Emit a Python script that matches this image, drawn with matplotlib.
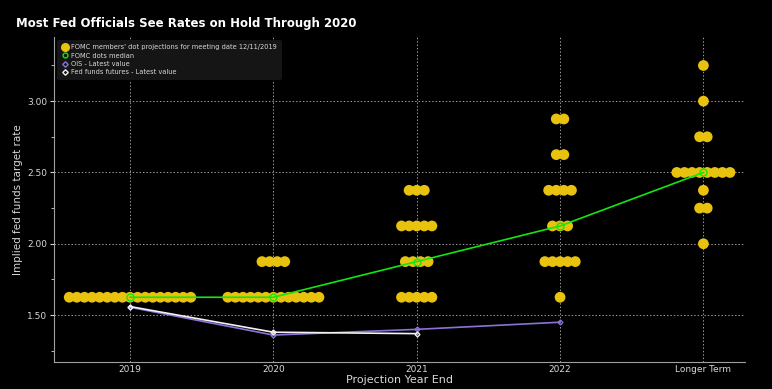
import numpy as np
import matplotlib.pyplot as plt
from matplotlib.lines import Line2D

# ===== data =====
categories = ['2019', '2020', '2021', '2022', 'Longer Term']

# dot plot: (rate level, number of officials) per projection year
dots_2019 = [(1.625, 17)]
dots_2020 = [(1.625, 13), (1.875, 4)]
dots_2021 = [(1.625, 5), (1.875, 4), (2.125, 5), (2.375, 3)]
dots_2022 = [(1.625, 1), (1.875, 5), (2.125, 3), (2.375, 4), (2.625, 2), (2.875, 2)]
dots_longer = [(2.00, 1), (2.25, 2), (2.375, 1), (2.50, 8), (2.75, 2), (3.00, 1), (3.25, 1)]
dots_all = [dots_2019, dots_2020, dots_2021, dots_2022, dots_longer]

median_rates = [1.625, 1.625, 1.875, 2.125, 2.50]
ois_rates = [1.555, 1.36, 1.40, 1.45]
futures_rates = [1.56, 1.38, 1.37]

# ===== style =====
bg = 'black'
fg = '#d8d8d8'
dot_color = '#e8c20c'
median_color = '#12e612'
ois_color = '#8c72d8'
fut_color = '#f2f2f2'

fig = plt.figure(figsize=(7.72, 3.89), dpi=100, facecolor=bg)
ax = fig.add_axes([0.070, 0.069, 0.895, 0.836], facecolor=bg)

x_pos = np.arange(len(categories))
step = 0.053

# 点阵：每个水平居中排开
for xi, levels in zip(x_pos, dots_all):
    for rate, n in levels:
        offs = (np.arange(n) - (n - 1) / 2) * step
        ax.scatter(xi + offs, np.full(n, rate), s=60, color=dot_color,
                   edgecolors='none', zorder=3)

ax.plot(x_pos, median_rates, color=median_color, lw=1.2, zorder=4,
        marker='o', markersize=5, markerfacecolor='none',
        markeredgecolor=median_color, markeredgewidth=1.0)
ax.plot(x_pos[:len(ois_rates)], ois_rates, color=ois_color, lw=1.2, zorder=4,
        marker='D', markersize=2.5, markerfacecolor='none',
        markeredgecolor=ois_color)
ax.plot(x_pos[:len(futures_rates)], futures_rates, color=fut_color, lw=1.2, zorder=5,
        marker='D', markersize=2.5, markerfacecolor='none',
        markeredgecolor=fut_color)

ax.set_xlim(-0.53, 4.29)
ax.set_ylim(1.17, 3.45)
ax.set_xticks(x_pos)
ax.set_xticklabels(categories)
ax.set_yticks([1.5, 2.0, 2.5, 3.0])
ax.set_yticklabels(['1.50', '2.00', '2.50', '3.00'])
ax.set_yticks(np.arange(1.25, 3.3, 0.25), minor=True)

ax.grid(True, which='major', color='#9a9a9a', linestyle=(0, (1.5, 2)), lw=0.7)
ax.tick_params(colors=fg, labelsize=6.5, length=3, width=0.8, pad=2)
ax.tick_params(which='minor', colors=fg, length=2, width=0.6)
ax.tick_params(axis='x', length=0, pad=2)
for s in ['top', 'right']:
    ax.spines[s].set_visible(False)
for s in ['left', 'bottom']:
    ax.spines[s].set_color('#a0a0a0')
    ax.spines[s].set_linewidth(0.8)

ax.set_xlabel('Projection Year End', color=fg, fontsize=8, labelpad=1)
ax.set_ylabel('Implied fed funds target rate', color=fg, fontsize=7.5, labelpad=3)

fig.text(0.021, 0.94, 'Most Fed Officials See Rates on Hold Through 2020',
         color='white', fontsize=8.5, fontweight='bold', va='center')

handles = [
    Line2D([], [], ls='none', marker='o', markersize=5.5, color=dot_color),
    Line2D([], [], ls='none', marker='o', markersize=3.5, markerfacecolor='none',
           markeredgecolor=median_color, markeredgewidth=1.0),
    Line2D([], [], ls='none', marker='D', markersize=2.8, markerfacecolor='none',
           markeredgecolor=ois_color),
    Line2D([], [], ls='none', marker='D', markersize=2.8, markerfacecolor='none',
           markeredgecolor=fut_color),
]
labels = ["FOMC members' dot projections for meeting date 12/11/2019",
          'FOMC dots median', 'OIS - Latest value', 'Fed funds futures - Latest value']
leg = ax.legend(handles, labels, loc='upper left', bbox_to_anchor=(0.0, 1.0),
                fontsize=4.8, frameon=True, facecolor='#151515', edgecolor='none',
                framealpha=1.0, handletextpad=0.3, labelspacing=0.35,
                borderpad=0.7, handlelength=1.2, borderaxespad=0.4)
leg.get_frame().set_boxstyle('round,pad=0.0,rounding_size=0.3')
for t in leg.get_texts():
    t.set_color(fg)

fig.savefig('out.png', dpi=100, facecolor=bg)
